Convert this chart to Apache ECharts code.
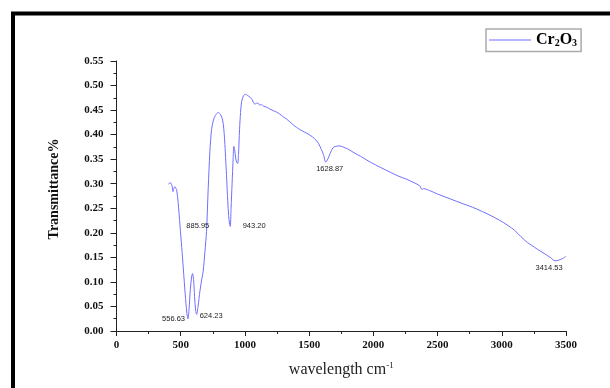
<!DOCTYPE html>
<html>
<head>
<meta charset="utf-8">
<script src="https://cdn.jsdelivr.net/npm/echarts@6/dist/echarts.min.js"></script>
<style>
  html, body { margin: 0; padding: 0; background: #fff; }
  #chart { width: 610px; height: 388px; }
</style>
</head>
<body>
<div id="chart"></div>
<script>
// FTIR spectrum of Cr2O3
const wavenumber = [403, 420, 432, 440, 446, 455, 462, 470, 480, 494, 508, 520, 535, 548, 556.63,
  565, 575, 585, 592, 600, 608, 616, 624.23, 635, 650, 665, 675, 688, 701, 714, 727, 740, 755, 770,
  792, 810, 826, 836, 844, 851, 858, 866, 873, 880, 885.95, 892, 900, 908, 914, 920, 928, 935, 943.2,
  950, 958, 966, 975, 990, 1005, 1020, 1040, 1055, 1067, 1077, 1090, 1103, 1115, 1129, 1145, 1168,
  1195, 1219, 1245, 1271, 1300, 1323, 1350, 1380, 1401, 1430, 1466, 1500, 1527, 1553, 1573, 1595,
  1612, 1628.87, 1645, 1664, 1685, 1703, 1740, 1770, 1800, 1850, 1900, 1950, 1983, 2050, 2135, 2200,
  2260, 2317, 2360, 2379, 2390, 2439, 2500, 2600, 2700, 2744, 2800, 2900, 2980, 3048, 3100, 3150,
  3200, 3230, 3280, 3330, 3382, 3414.53, 3440, 3470, 3498]
const transmittance = [0.299, 0.302, 0.296, 0.284, 0.290, 0.294, 0.291, 0.285, 0.262, 0.216, 0.170,
  0.128, 0.075, 0.036, 0.025, 0.045, 0.085, 0.110, 0.117, 0.105, 0.070, 0.042, 0.034, 0.050, 0.082,
  0.107, 0.122, 0.160, 0.203, 0.290, 0.365, 0.410, 0.430, 0.439, 0.445, 0.441, 0.430, 0.410, 0.380,
  0.345, 0.310, 0.265, 0.235, 0.218, 0.213, 0.250, 0.300, 0.350, 0.376, 0.370, 0.352, 0.344, 0.341,
  0.360, 0.410, 0.445, 0.468, 0.480, 0.482, 0.480, 0.476, 0.472, 0.465, 0.462, 0.464, 0.464, 0.460,
  0.461, 0.458, 0.456, 0.452, 0.449, 0.446, 0.442, 0.436, 0.432, 0.426, 0.419, 0.415, 0.410, 0.405,
  0.400, 0.395, 0.389, 0.382, 0.370, 0.359, 0.344, 0.350, 0.362, 0.373, 0.376, 0.377, 0.374, 0.371,
  0.363, 0.356, 0.348, 0.343, 0.334, 0.323, 0.315, 0.309, 0.302, 0.296, 0.288, 0.290, 0.286, 0.279,
  0.269, 0.259, 0.255, 0.249, 0.237, 0.226, 0.215, 0.205, 0.192, 0.180, 0.175, 0.166, 0.158, 0.149,
  0.143, 0.144, 0.147, 0.152]

// peak annotations
const peakPos = [556.63, 624.23, 885.95, 943.20, 1628.87, 3414.53]
const peakT = [0.025, 0.030, 0.213, 0.213, 0.344, 0.143]
const peakLabelSide = ['left', 'right', 'left', 'right', 'bottom', 'bottom']
const peakLabelOffset = [[0, 0], [0, 0], [-18, 0], [2, 0], [4, 0], [-6, 0]]

const chart = echarts.init(document.getElementById('chart'))

const serif = '"Liberation Serif", "DejaVu Serif", serif'

const option = {
  animation: false,
  graphic: [{
    type: 'rect',
    shape: { x: 13, y: 13.5, width: 700, height: 500 },
    style: { fill: 'none', stroke: '#000', lineWidth: 4 }
  }],
  legend: {
    left: 486,
    top: 29,
    icon: 'rect',
    itemWidth: 42,
    itemHeight: 1,
    itemGap: 4,
    padding: [3, 4, 3, 3],
    borderColor: '#aaa',
    borderWidth: 1.5,
    formatter: () => '{b|Cr}{s|2}{b|O}{s|3}',
    textStyle: {
      rich: {
        b: { fontFamily: serif, fontWeight: 'bold', fontSize: 16, color: '#000' },
        s: { fontFamily: serif, fontWeight: 'bold', fontSize: 10, color: '#000', verticalAlign: 'bottom', padding: [7, 0, 0, 0] }
      }
    }
  },
  grid: { left: 116.5, right: 44, top: 61, bottom: 57 },
  xAxis: {
    type: 'value',
    min: 0,
    max: 3500,
    interval: 500,
    name: '{a|wavelength cm}{s|-1}',
    nameLocation: 'middle',
    nameGap: 30,
    nameTextStyle: {
      rich: {
        a: { fontFamily: serif, fontSize: 16, color: '#222' },
        s: { fontFamily: serif, fontSize: 9, color: '#222', verticalAlign: 'top', padding: [0, 0, 9, 0] }
      }
    },
    axisLine: { lineStyle: { color: '#222', width: 1 } },
    axisTick: { length: 5, lineStyle: { color: '#222' } },
    minorTick: { show: true, splitNumber: 2, length: 3, lineStyle: { color: '#222' } },
    splitLine: { show: false },
    axisLabel: {
      fontFamily: serif, fontWeight: 'bold', fontSize: 11, color: '#111', margin: 9,
      formatter: v => String(v)
    }
  },
  yAxis: {
    type: 'value',
    min: 0,
    max: 0.55,
    interval: 0.05,
    name: 'Transmittance%',
    nameLocation: 'middle',
    nameGap: 55,
    nameTextStyle: { fontFamily: serif, fontWeight: 'bold', fontSize: 14, color: '#111', padding: [0, 0, 0, 14] },
    axisLine: { show: true, lineStyle: { color: '#222', width: 1 } },
    axisTick: { length: 6, lineStyle: { color: '#222' } },
    minorTick: { show: true, splitNumber: 2, length: 3, lineStyle: { color: '#222' } },
    splitLine: { show: false },
    axisLabel: {
      fontFamily: serif, fontWeight: 'bold', fontSize: 11, color: '#111', margin: 13,
      formatter: v => v.toFixed(2)
    }
  },
  series: [{
    name: 'Cr2O3',
    type: 'line',
    symbol: 'none',
    smooth: 0.3,
    color: '#6f6fff',
    lineStyle: { width: 1 },
    data: wavenumber.map((w, i) => [w, transmittance[i]]),
    markPoint: {
      symbol: 'circle',
      symbolSize: 0,
      data: peakPos.map((p, i) => ({
        coord: [p, peakT[i]],
        value: p.toFixed(2),
        label: {
          show: true,
          position: peakLabelSide[i],
          offset: peakLabelOffset[i],
          distance: 3,
          formatter: '{c}',
          fontFamily: '"Liberation Sans", Arial, sans-serif',
          fontSize: 7.5,
          color: '#222'
        }
      }))
    }
  }]
}

chart.setOption(option)
</script>
</body>
</html>
